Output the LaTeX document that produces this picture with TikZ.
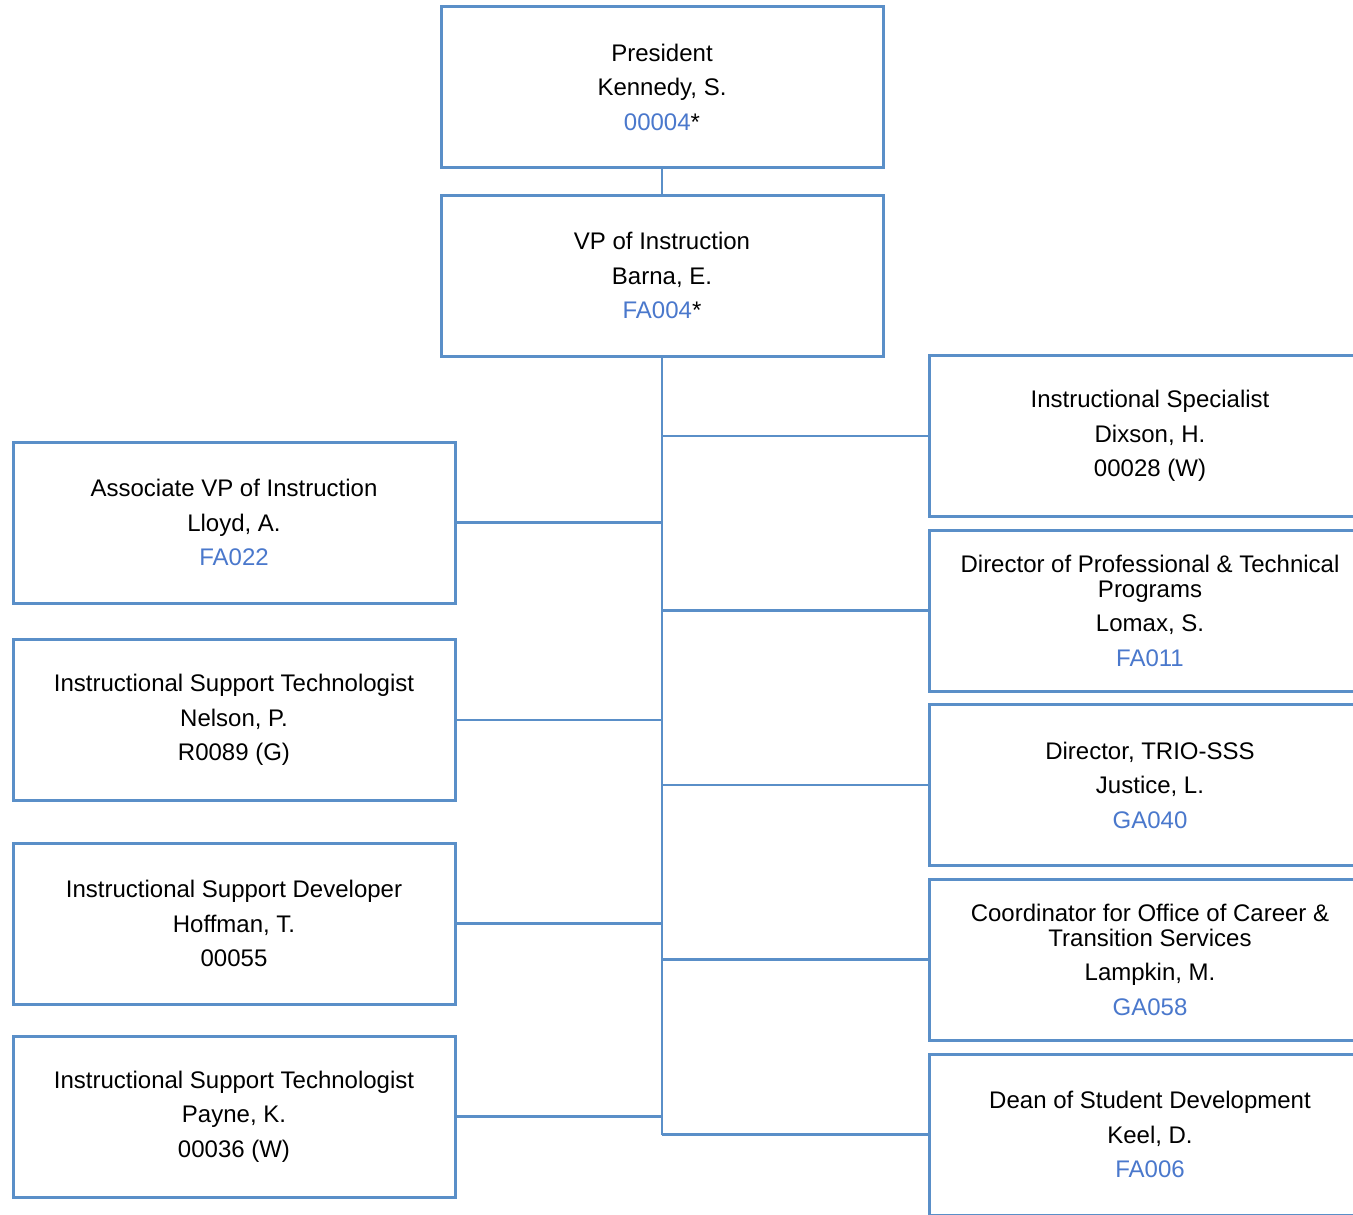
\documentclass[tikz,border=0pt]{standalone}
\usepackage{fontspec}
\setmainfont{Liberation Sans}
\definecolor{boxblue}{HTML}{5A8FC8}
\definecolor{codeblue}{HTML}{4A78CC}
\newcommand{\pg}{\\[7.1pt]}
\newcommand{\cd}[1]{\textcolor{codeblue}{#1}}
\begin{document}
\begin{tikzpicture}[x=0.75pt,y=-0.75pt,
  orgbox/.style={draw=boxblue, line width=2.25pt, fill=white,
    minimum width=331.5pt, minimum height=120.75pt, inner sep=0pt,
    align=center, font=\fontsize{18}{18.75}\selectfont},
  link/.style={draw=boxblue, line width=2pt}]
\useasboundingbox (0,0) rectangle (1353,1214);
\clip (0,0) rectangle (1353,1214);
% top
\node[orgbox] (pres) at (662,87) {President\pg Kennedy, S.\pg \cd{00004}*};
\node[orgbox] (vp) at (662,275.5) {VP of Instruction\pg Barna, E.\pg \cd{FA004}*};
% left
\node[orgbox] (avp) at (234,522.5) {Associate VP of Instruction\pg Lloyd, A.\pg \cd{FA022}};
\node[orgbox] (nel) at (234,720) {Instructional Support Technologist\pg Nelson, P.\pg R0089 (G)};
\node[orgbox] (hof) at (234,923.5) {Instructional Support Developer\pg Hoffman, T.\pg 00055};
\node[orgbox] (pay) at (234,1116.5) {Instructional Support Technologist\pg Payne, K.\pg 00036 (W)};
% right
\node[orgbox] (dix) at (1150,436) {Instructional Specialist\pg Dixson, H.\pg 00028 (W)};
\node[orgbox] (lom) at (1150,610.5) {Director of Professional \& Technical\\Programs\pg Lomax, S.\pg \cd{FA011}};
\node[orgbox] (jus) at (1150,785) {Director, TRIO-SSS\pg Justice, L.\pg \cd{GA040}};
\node[orgbox] (lam) at (1150,959.5) {Coordinator for Office of Career \&\\Transition Services\pg Lampkin, M.\pg \cd{GA058}};
\node[orgbox] (kee) at (1150,1134.5) {Dean of Student Development\pg Keel, D.\pg \cd{FA006}};
% connectors
\coordinate (trunkend) at (662,1134.5);
\draw[link] (pres.south) -- (vp.north);
\draw[link] (vp.south) -- (trunkend);
\foreach \n in {avp,nel,hof,pay}{
  \draw[link] (\n.east) -- (\n.east -| vp.south);
}
\foreach \n in {dix,lom,jus,lam,kee}{
  \draw[link] (\n.west) -- (\n.west -| vp.south);
}
\end{tikzpicture}
\end{document}
